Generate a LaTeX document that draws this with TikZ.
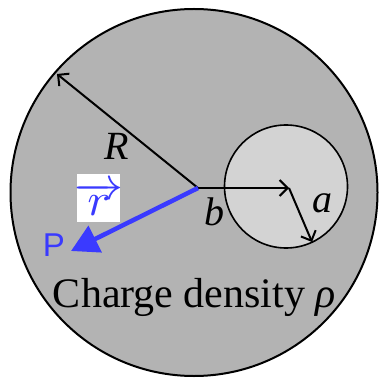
\documentclass[tikz,border=0pt]{standalone}
\usepackage{fontspec}
\setmainfont{Liberation Serif}
\setsansfont{Liberation Sans}
\usetikzlibrary{arrows.meta}
\definecolor{outergray}{RGB}{179,179,179}
\definecolor{innergray}{RGB}{211,211,211}
\definecolor{vecblue}{RGB}{58,58,255}
\tikzset{
  lbl/.style={font=\fontsize{40}{40}\selectfont\itshape, inner sep=0pt},
  blackarrow/.style={line width=2pt, -{Straight Barb[length=8pt,width=16pt,line width=2pt]}},
}
\begin{document}
\begin{tikzpicture}[x=1pt,y=-1pt]
\useasboundingbox (0,0) rectangle (382,379);
\fill[white] (0,0) rectangle (382,379);
% big sphere
\draw[line width=2pt, fill=outergray] (194,192.5) circle[radius=183.5pt];
% cavity
\draw[line width=1.6pt, fill=innergray] (286,186.5) circle[radius=61.5pt];
\coordinate (O) at (198,188);
\coordinate (Rend) at (57,74);
\coordinate (C) at (289,188);
\coordinate (Aend) at (312,242);
\coordinate (Ptip) at (71,251);
\draw[blackarrow] (O) -- (Rend);
\draw[blackarrow] (O) -- (C);
\draw[blackarrow] (C) -- (Aend);
\draw[vecblue, line width=4.5pt, -{Triangle[length=27pt,width=29pt]}] (O) -- (Ptip);
\node[lbl] (R) at (117,146) {R};
\node[lbl] (b) at (214,212) {b};
\node[lbl] (a) at (322,203) {a};
\fill[white] (77,174) rectangle (120,222);
\node[inner sep=0pt, text=vecblue] (rvec) at (99,199)
  {\scalebox{4.9}[4.6]{\fontsize{10}{10}\selectfont$\overrightarrow{r}$}};
\node[font=\sffamily\fontsize{33}{33}\selectfont, text=vecblue, inner sep=0pt] (P) at (54,245) {P};
\node[anchor=base, inner sep=0pt, font=\fontsize{42}{42}\selectfont] (cd) at (194.5,307) {Charge density \textit{ρ}};
\end{tikzpicture}
\end{document}
